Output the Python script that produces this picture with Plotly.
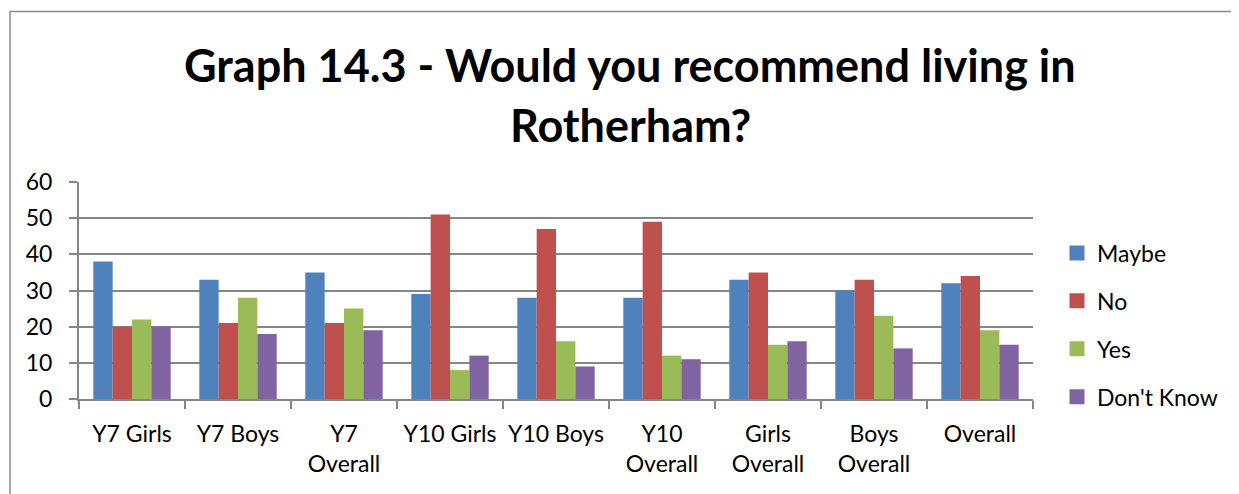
import plotly.graph_objects as go

categories = ["Y7 Girls", "Y7 Boys", "Y7<br>Overall", "Y10 Girls", "Y10 Boys",
              "Y10<br>Overall", "Girls<br>Overall", "Boys<br>Overall", "Overall"]
maybe = [38, 33, 35, 29, 28, 28, 33, 30, 32]
no = [20, 21, 21, 51, 47, 49, 35, 33, 34]
yes = [22, 28, 25, 8, 16, 12, 15, 23, 19]
dont_know = [20, 18, 19, 12, 9, 11, 16, 14, 15]

series_names = ["Maybe", "No", "Yes", "Don't Know"]
series_values = [maybe, no, yes, dont_know]
colors = ["#4F81BD", "#C0504D", "#9BBB59", "#8064A2"]
y_ticks = [0, 10, 20, 30, 40, 50, 60]

FONT = "Lato"
OFF = 8  # page body margin

fig = go.Figure()
for name, vals, col in zip(series_names, series_values, colors):
    fig.add_trace(go.Bar(x=categories, y=vals, name=name, legendgroup=name,
                         showlegend=False,
                         marker=dict(color=col, line=dict(width=0))))
# legend entries with larger square swatches
for name, col in zip(series_names, colors):
    fig.add_trace(go.Scatter(x=[None], y=[None], mode="markers", name=name,
                             legendgroup=name, showlegend=True,
                             marker=dict(symbol="square", size=15, color=col,
                                         line=dict(width=0))))

W, H = 1239 - OFF, 494 - OFF
# plot area in screen coordinates
SL, SR, ST, SB = 79, 1033, 182, 399
L, R, T, B = SL - OFF, SR - OFF, ST - OFF, SB - OFF
pw, ph = R - L, B - T

def px(x):  # screen x -> paper
    return (x - SL) / pw

def py(y):  # screen y -> paper
    return (SB - y) / ph

fig.update_layout(
    width=W, height=H, autosize=False,
    margin=dict(l=L, r=W - R, t=T, b=H - B, pad=0),
    paper_bgcolor="white", plot_bgcolor="white",
    barmode="group", bargap=0.27, bargroupgap=0,
    font=dict(family=FONT, size=23, color="black"),
    showlegend=True,
    legend=dict(x=px(1057), xanchor="left", y=py(325), yanchor="middle",
                font=dict(size=23, family=FONT), tracegroupgap=15,
                traceorder="grouped", bgcolor="rgba(0,0,0,0)"),
    xaxis=dict(type="category", showgrid=False, showline=True, linecolor="#868686",
               linewidth=2, ticks="outside", tickson="boundaries", ticklen=8,
               tickcolor="#868686", tickwidth=2, tickfont=dict(size=23, family=FONT),
               ticklabelstandoff=13, fixedrange=True),
    yaxis=dict(range=[0, 60], tickvals=y_ticks, showgrid=True, gridcolor="#868686",
               gridwidth=2, showline=True, linecolor="#868686", linewidth=2,
               ticks="outside", ticklen=8, tickcolor="#868686", tickwidth=2,
               tickfont=dict(size=23, family=FONT), ticklabelstandoff=12,
               zeroline=False, fixedrange=True),
    annotations=[
        dict(text="<b>Graph 14.3 - Would you recommend living in</b>", xref="paper", yref="paper",
             x=px(630), y=py(65), xanchor="center", yanchor="middle", showarrow=False,
             font=dict(size=45, family=FONT, color="black")),
        dict(text="<b>Rotherham?</b>", xref="paper", yref="paper",
             x=px(630), y=py(125), xanchor="center", yanchor="middle", showarrow=False,
             font=dict(size=45, family=FONT, color="black")),
    ],
    shapes=[
        dict(type="rect", xref="paper", yref="paper", x0=px(10), x1=px(1300),
             y0=py(11.5), y1=py(560), line=dict(color="#8C8C8C", width=1.5),
             fillcolor="rgba(0,0,0,0)", layer="below"),
    ],
)

fig.write_html("out.html")
